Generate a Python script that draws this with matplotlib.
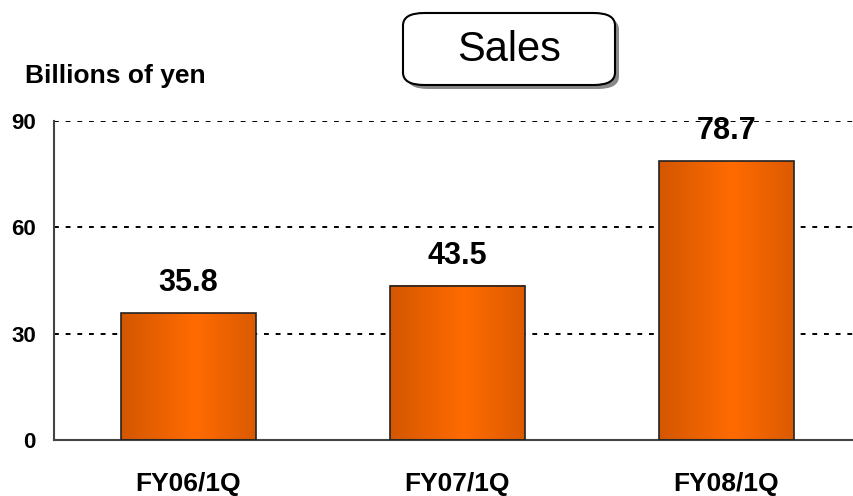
import numpy as np
import matplotlib.pyplot as plt
from matplotlib.patches import FancyBboxPatch

categories = ['FY06/1Q', 'FY07/1Q', 'FY08/1Q']
sales = [35.8, 43.5, 78.7]
yticks = [0, 30, 60, 90]

plt.rcParams['font.family'] = ['Liberation Sans', 'DejaVu Sans']

fig = plt.figure(figsize=(8.54, 4.96), dpi=100)
ax = fig.add_axes([54 / 854, 1 - 440 / 496, 800 / 854, 319 / 496])

x = np.arange(len(categories))
bars = ax.bar(x, sales, width=0.5, color='none', edgecolor='#222222', linewidth=1.2, zorder=3)

# horizontal gradient: darker orange at the sides, bright in the middle
t = np.linspace(0, 1, 256)
c0 = np.array([0.83, 0.34, 0.0])
c1 = np.array([1.0, 0.42, 0.0])
w = np.clip(1 - np.abs(t - 0.55) / 0.55, 0, 1)
grad = c0 + (c1 - c0) * w[:, None]
grad = grad[None, :, :]
for b in bars:
    x0, y0 = b.get_x(), b.get_y()
    ax.imshow(grad, extent=[x0, x0 + b.get_width(), y0, y0 + b.get_height()],
              aspect='auto', zorder=2, interpolation='bilinear')

for xi, v in zip(x, sales):
    ax.annotate(f'{v:.1f}', (xi, v), xytext=(0, 11), textcoords='offset points',
                ha='center', va='bottom', fontsize=22, fontweight='bold')

ax.set_xlim(-0.5, 2.474)
ax.set_ylim(0, 90)
ax.set_yticks(yticks)
ax.set_yticklabels([str(v) for v in yticks], fontsize=16, fontweight='bold')
ax.set_xticks(x)
ax.set_xticklabels(categories, fontsize=19, fontweight='bold')
ax.tick_params(axis='x', length=0, pad=23)
ax.tick_params(axis='y', length=0, pad=13)
ax.yaxis.grid(True, linestyle=(0, (2.5, 3.5)), color='black', linewidth=1.4)
ax.set_axisbelow(True)
for s in ['top', 'right']:
    ax.spines[s].set_visible(False)
ax.spines['left'].set_color('#444444')
ax.spines['bottom'].set_color('#444444')
ax.spines['left'].set_linewidth(1.5)
ax.spines['bottom'].set_linewidth(1.5)

fig.text(25 / 854, 1 - 76 / 496, 'Billions of yen', fontsize=19, fontweight='bold',
         ha='left', va='center')

# title box with drop shadow
shadow = FancyBboxPatch((407 / 854, 1 - 89 / 496), 212 / 854, 72 / 496,
                        boxstyle='round,pad=0,rounding_size=0.025',
                        transform=fig.transFigure, facecolor='#888888', edgecolor='none')
box = FancyBboxPatch((403 / 854, 1 - 85 / 496), 212 / 854, 72 / 496,
                     boxstyle='round,pad=0,rounding_size=0.025',
                     transform=fig.transFigure, facecolor='white', edgecolor='black', linewidth=1.5)
fig.patches.extend([shadow, box])
fig.text(509 / 854, 1 - 50 / 496, 'Sales', fontsize=30, ha='center', va='center')

fig.savefig('out.png', dpi=100)
